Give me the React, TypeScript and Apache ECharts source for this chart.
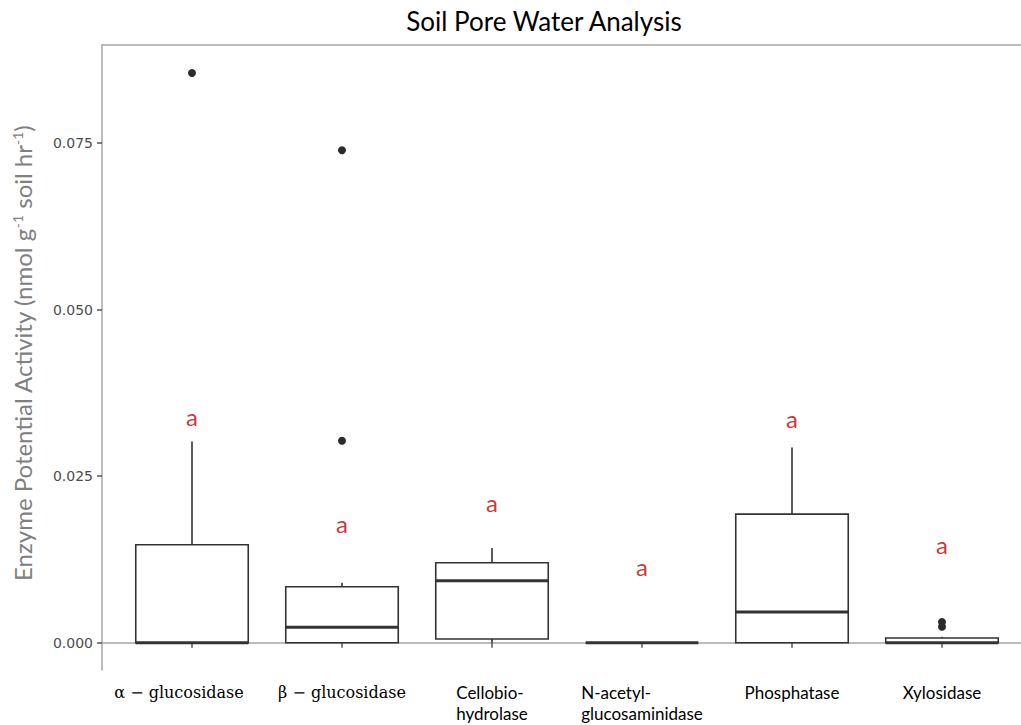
import React, { useEffect, useRef } from "react";
import * as echarts from "echarts";

const categories = [
  "α − glucosidase",
  "β − glucosidase",
  "Cellobio-\nhydrolase",
  "N-acetyl-\nglucosaminidase",
  "Phosphatase",
  "Xylosidase",
];
const categoryIsSerif = [true, true, false, false, false, false];
const boxLow = [0, 0, 0, 0, 0, 0];
const boxQ1 = [0, 0, 0.00055, 0, 0, 0];
const boxMedian = [0, 0.0023, 0.0093, 0, 0.0046, 0];
const boxQ3 = [0.0147, 0.0084, 0.012, 0, 0.0193, 0.0007];
const boxHigh = [0.0302, 0.009, 0.0142, 0, 0.0293, 0.0009];
const outlierCategory = [1, 2, 2, 6, 6];
const outlierValue = [0.0855, 0.0303, 0.0739, 0.0031, 0.0024];
const letterLabels = ["a", "a", "a", "a", "a", "a"];
const letterValue = [0.0339, 0.0179, 0.021, 0.0114, 0.0337, 0.0147];
const yTicks = [0, 0.025, 0.05, 0.075];
const xTicks = [1, 2, 3, 4, 5, 6];

const SANS = "Lato, 'Open Sans', sans-serif";
const SERIF = "'DejaVu Serif', 'Liberation Serif', serif";
const BOX = "#333333";
const FRAME = "#a6a6a6";

export default function App() {
  const ref = useRef<HTMLDivElement>(null);

  useEffect(() => {
    document.body.style.margin = "0";
    document.body.style.overflow = "hidden";
    if (!ref.current) return;
    const chart = echarts.init(ref.current, undefined, { renderer: "svg" });

    const boxData = categories.map((_, i) => [
      i + 1,
      boxLow[i],
      boxQ1[i],
      boxMedian[i],
      boxQ3[i],
      boxHigh[i],
    ]);
    const outlierData = outlierCategory.map((c, i) => [c, outlierValue[i]]);
    const letterData = letterLabels.map((t, i) => ({
      value: [i + 1, letterValue[i]],
      label: { formatter: t },
    }));

    const option: any = {
      animation: false,
      backgroundColor: "#ffffff",
      graphic: [
        {
          type: "text",
          x: 544,
          y: 21,
          style: {
            text: "Soil Pore Water Analysis",
            fontFamily: SANS,
            fontSize: 26,
            fill: "#000000",
            align: "center",
            verticalAlign: "middle",
          },
        },
      ],
      grid: {
        left: 102,
        width: 930,
        top: 45,
        height: 625,
        outerBoundsMode: "none",
        containLabel: false,
        show: false,
      },
      xAxis: [
        {
          type: "value",
          min: 0.4,
          max: 6.6,
          splitLine: { show: false },
          axisLine: { show: true, lineStyle: { color: FRAME, width: 1.5 } },
          axisTick: {
            show: true,
            customValues: xTicks,
            length: 5,
            lineStyle: { color: "#555555", width: 1.5 },
          },
          axisLabel: {
            customValues: xTicks,
            margin: 12,
            color: "#000000",
            fontFamily: SANS,
            fontSize: 17,
            lineHeight: 21,
            formatter: (v: number) => {
              const i = Math.round(v) - 1;
              const lines = categories[i].split("\n");
              const tag = categoryIsSerif[i] ? (i === 0 ? "a" : "s") : "l";
              return lines.map((ln) => `{${tag}|${ln}}`).join("\n");
            },
            rich: {
              l: { fontFamily: SANS, fontSize: 17, lineHeight: 21, align: "left", color: "#000" },
              s: { fontFamily: SERIF, fontSize: 16, lineHeight: 21, color: "#000" },
              a: { fontFamily: SERIF, fontSize: 16, lineHeight: 21, color: "#000", padding: [0, 26, 0, 0] },
            },
          },
        },
        {
          type: "value",
          position: "top",
          min: 0.4,
          max: 6.6,
          splitLine: { show: false },
          axisLine: { show: true, lineStyle: { color: FRAME, width: 1.5 } },
          axisTick: { show: false },
          axisLabel: { show: false },
        },
      ],
      yAxis: {
        type: "value",
        min: -0.0041,
        max: 0.0897,
        splitLine: { show: false },
        axisLine: { show: true, lineStyle: { color: FRAME, width: 1.5 } },
        axisTick: {
          show: true,
          customValues: yTicks,
          length: 5,
          lineStyle: { color: "#555555", width: 1.5 },
        },
        axisLabel: {
          customValues: yTicks,
          margin: 9,
          color: "#4d4d4d",
          fontFamily: "'DejaVu Sans', sans-serif",
          fontSize: 14,
          formatter: (v: number) => v.toFixed(3),
        },
        name: "Enzyme Potential Activity (nmol g{sup|-1} soil hr{sup|-1})",
        nameLocation: "middle",
        nameGap: 68,
        nameTextStyle: {
          fontFamily: SANS,
          fontSize: 24,
          color: "#808080",
          padding: [0, 0, 0, 8],
          rich: {
            sup: {
              fontFamily: SANS,
              fontSize: 14,
              color: "#808080",
              verticalAlign: "top",
            },
          },
        },
      },
      series: [
        {
          type: "custom",
          data: boxData,
          encode: { x: 0, y: [1, 2, 3, 4, 5] },
          clip: false,
          renderItem: (params: any, api: any) => {
            const x = api.value(0);
            const lo = api.value(1);
            const q1 = api.value(2);
            const med = api.value(3);
            const q3 = api.value(4);
            const hi = api.value(5);
            const w = api.size([1, 0])[0] * 0.75;
            const pLo = api.coord([x, lo]);
            const pQ1 = api.coord([x, q1]);
            const pMed = api.coord([x, med]);
            const pQ3 = api.coord([x, q3]);
            const pHi = api.coord([x, hi]);
            const cx = pMed[0];
            const children: any[] = [];
            if (hi > q3) {
              children.push({
                type: "line",
                shape: { x1: cx, y1: pQ3[1], x2: cx, y2: pHi[1] },
                style: { stroke: BOX, lineWidth: 1.6 },
              });
            }
            if (q1 > lo) {
              children.push({
                type: "line",
                shape: { x1: cx, y1: pLo[1], x2: cx, y2: pQ1[1] },
                style: { stroke: BOX, lineWidth: 1.6 },
              });
            }
            children.push({
              type: "rect",
              shape: { x: cx - w / 2, y: pQ3[1], width: w, height: pQ1[1] - pQ3[1] },
              style: { fill: "#ffffff", stroke: BOX, lineWidth: 1.6 },
            });
            children.push({
              type: "line",
              shape: { x1: cx - w / 2, y1: pMed[1], x2: cx + w / 2, y2: pMed[1] },
              style: { stroke: BOX, lineWidth: 3 },
            });
            return { type: "group", children };
          },
          z: 2,
        },
        {
          type: "scatter",
          data: outlierData,
          symbol: "circle",
          symbolSize: 8,
          itemStyle: { color: "#2b2b2b", opacity: 1 },
          z: 3,
        },
        {
          type: "scatter",
          data: letterData,
          symbolSize: 0,
          label: {
            show: true,
            position: "inside",
            color: "#c00000",
            fontFamily: SANS,
            fontSize: 24,
          },
          z: 4,
        },
      ],
    };

    chart.setOption(option);
    return () => chart.dispose();
  }, []);

  return <div ref={ref} style={{ width: 1021, height: 725 }} />;
}
